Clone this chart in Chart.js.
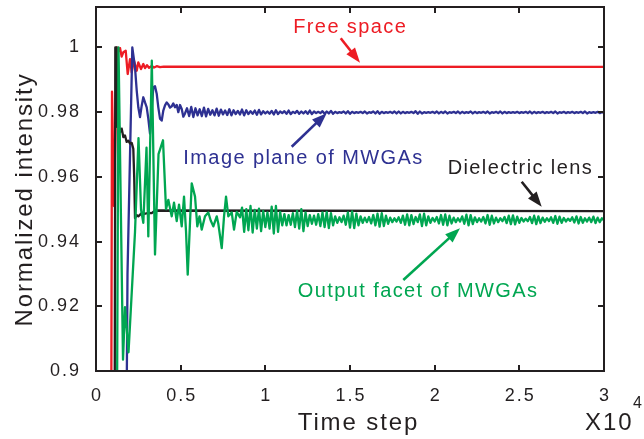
<!DOCTYPE html>
<html>
<head>
<meta charset="utf-8">
<script src="https://cdn.jsdelivr.net/npm/chart.js@4.4.1/dist/chart.umd.min.js"></script>
<style>
html,body{margin:0;padding:0;background:#fff;}
#wrap{width:644px;height:439px;}
</style>
</head>
<body>
<div id="wrap"><canvas id="c" width="644" height="439"></canvas></div>
<script>
// ---------------- DATA (time in units of 10^4 steps) ----------------
const xTicks = [0, 0.5, 1, 1.5, 2, 2.5, 3];
const xTickLabels = ['0', '0.5', '1', '1.5', '2', '2.5', '3'];
const yTicks = [0.9, 0.92, 0.94, 0.96, 0.98, 1];
const yTickLabels = ['0.9', '0.92', '0.94', '0.96', '0.98', '1'];

// Free space (red): [time, intensity]
const freeSpace = [
  [0.0886,0.85],[0.0945,0.9863],[0.1063,0.951],[0.124,1.0],[0.1329,0.9988],[0.1418,0.9998],
  [0.1515,0.9972],[0.1613,0.9985],[0.1754,0.999],[0.1872,0.9918],[0.2008,0.9964],[0.2109,0.9923],
  [0.2245,0.9959],[0.2404,0.9928],[0.2499,0.9954],[0.2658,0.9933],[0.2794,0.9949],[0.2894,0.9936],
  [0.3012,0.9945],[0.3131,0.9937],[0.329,0.9943],[0.3426,0.9938],[0.3585,0.9942],[0.378,0.9939],
  [0.40,0.9941],[3.0,0.9940]
];

// Image plane of MWGAs (blue): early transient [time, intensity]
const imagePlaneEarly = [
  [0.1760,0.85],[0.1860,0.93],[0.2144,1.0],[0.2304,0.9938],[0.2404,0.9867],[0.2499,0.9815],
  [0.2599,0.9785],[0.2699,0.982],[0.2794,0.9846],[0.2894,0.983],[0.2995,0.9815],[0.3089,0.978],
  [0.3190,0.9734],[0.3385,0.9877],[0.3485,0.988],[0.3585,0.9857],[0.3680,0.9815],[0.3780,0.978],
  [0.3881,0.9774],[0.3975,0.9805],[0.4076,0.9821],[0.4176,0.983],[0.4271,0.9824],[0.4371,0.9814],
  [0.4471,0.9818],[0.4566,0.9827],[0.4666,0.9815],[0.4767,0.9822],[0.4861,0.9800],[0.4962,0.9822],
  [0.5062,0.9810],[0.5157,0.9786],[0.5257,0.9796]
];
// Image plane tail, sampled every 0.0125 from 0.5375
const imagePlaneTailStart = 0.5375;
const imagePlaneTailStep = 0.0125;
const imagePlaneTail = [
  0.9812,0.9788,0.9816,0.9785,0.9812,0.9790,0.9809,0.9788,
  0.9814,0.9787,0.9810,0.9792,0.9806,0.9790,0.9811,0.9789,
  0.9808,0.9793,0.9805,0.9791,0.9809,0.9790,0.9806,0.9794,
  0.9804,0.9793,0.9808,0.9790,0.9806,0.9794,0.9803,0.9795,
  0.9805,0.9792,0.9807,0.9793,0.9803,0.9796,0.9802,0.9795,
  0.9804,0.9793,0.9806,0.9794,0.9802,0.9797,0.9803,0.9795,
  0.9805,0.9794,0.9801,0.9797,0.9804,0.9795,0.9802,0.9796,
  0.9803,0.9795,0.9805,0.9794,0.9802,0.9797,0.9801,0.9797,
  0.9803,0.9795,0.9802,0.9796,0.9804,0.9795,0.9801,0.9797,
  0.9800,0.9798,0.9802,0.9796,0.9803,0.9795,0.9801,0.9797,
  0.9800,0.9798,0.9801,0.9797,0.9802,0.9796,0.9800,0.9798,
  0.9802,0.9796,0.9803,0.9795,0.9801,0.9797,0.9800,0.9798,
  0.9801,0.9797,0.9802,0.9796,0.9802,0.9796,0.9801,0.9797,
  0.9800,0.9798,0.9801,0.9797,0.9803,0.9795,0.9802,0.9796,
  0.9800,0.9798,0.9800,0.9798,0.9801,0.9797,0.9802,0.9796,
  0.9801,0.9797,0.9802,0.9796,0.9800,0.9798,0.9801,0.9797,
  0.9802,0.9796,0.9801,0.9797,0.9800,0.9798,0.9802,0.9796,
  0.9801,0.9797,0.9800,0.9798,0.9801,0.9797,0.9802,0.9796,
  0.9800,0.9798,0.9801,0.9797,0.9802,0.9796,0.9801,0.9797,
  0.9800,0.9798,0.9800,0.9798,0.9801,0.9797,0.9800,0.9798,
  0.9801,0.9797,0.9802,0.9796,0.9801,0.9797,0.9800,0.9798,
  0.9801,0.9797,0.9800,0.9798,0.9801,0.9797,0.9802,0.9796,
  0.9800,0.9798,0.9801,0.9797,0.9800,0.9798,0.9801,0.9797,
  0.9800,0.9798,0.9801,0.9797,0.9802,0.9796,0.9800,0.9798,
  0.9800,0.9798,0.9801,0.9797,0.9800,0.9798
];

// Dielectric lens (black): [time, intensity]
const dielectricLens = [
  [0.1093,0.85],[0.1140,1.0],[0.1211,1.0],[0.1258,0.9754],[0.1329,0.9765],[0.1418,0.9738],
  [0.1518,0.9749],[0.1613,0.9723],[0.1713,0.9728],[0.1813,0.9708],[0.1908,0.9712],[0.2008,0.9703],
  [0.2109,0.9705],[0.2203,0.9687],[0.2256,0.9600],[0.2304,0.9472],[0.2404,0.9482],[0.2499,0.9478],
  [0.2699,0.9488],[0.2894,0.9486],[0.3089,0.9489],[0.3290,0.9488],[0.3385,0.9492],[0.3485,0.9496],
  [3.0,0.9494]
];

// Output facet of MWGAs (green): early transient [time, intensity]
const outputFacetEarly = [
  [0.1211,0.85],[0.1329,1.0],[0.1595,0.9035],[0.1713,0.9197],[0.1920,0.9058],[0.2304,0.9430],
  [0.2510,0.972],[0.2658,0.950],[0.2794,0.9458],[0.2983,0.969],[0.3089,0.9416],[0.3296,0.9959],
  [0.3485,0.936],[0.3692,0.967],[0.3957,0.9713],[0.4135,0.950],[0.4271,0.9529],[0.4471,0.9478],
  [0.4607,0.952],[0.4767,0.9463],[0.4903,0.9514],[0.5062,0.9447],[0.5198,0.9539],[0.5316,0.9432],
  [0.5416,0.9298],[0.5653,0.958],[0.5848,0.9539],[0.5983,0.9447],[0.6113,0.9478],[0.6243,0.9437],
  [0.6438,0.9478],[0.6633,0.9490],[0.6775,0.9465],[0.6929,0.9447],[0.7129,0.9478],[0.7224,0.9455],
  [0.7425,0.938],[0.7561,0.9478],[0.7679,0.9539],[0.7814,0.9478],[0.8015,0.9490],[0.8151,0.9437],
  [0.8311,0.9492],[0.8506,0.9475]
];
// Output facet tail, sampled every 0.0125 from 0.8625
const outputFacetTailStart = 0.8625;
const outputFacetTailStep = 0.0125;
const outputFacetTail = [
  0.9505,0.9430,0.9500,0.9435,0.9510,0.9428,0.9498,0.9440,
  0.9502,0.9432,0.9495,0.9445,0.9490,0.9440,0.9508,0.9425,
  0.9510,0.9430,0.9492,0.9450,0.9485,0.9450,0.9482,0.9452,
  0.9488,0.9445,0.9495,0.9440,0.9500,0.9432,0.9490,0.9448,
  0.9482,0.9455,0.9480,0.9452,0.9485,0.9448,0.9490,0.9445,
  0.9492,0.9442,0.9488,0.9450,0.9478,0.9458,0.9475,0.9460,
  0.9480,0.9452,0.9490,0.9443,0.9493,0.9442,0.9486,0.9450,
  0.9478,0.9458,0.9474,0.9460,0.9476,0.9456,0.9482,0.9450,
  0.9486,0.9446,0.9488,0.9448,0.9480,0.9455,0.9474,0.9460,
  0.9472,0.9462,0.9475,0.9458,0.9480,0.9452,0.9484,0.9450,
  0.9482,0.9454,0.9476,0.9460,0.9484,0.9448,0.9486,0.9450,
  0.9478,0.9458,0.9473,0.9462,0.9476,0.9456,0.9482,0.9452,
  0.9484,0.9450,0.9480,0.9456,0.9474,0.9460,0.9472,0.9462,
  0.9478,0.9455,0.9483,0.9450,0.9482,0.9454,0.9475,0.9460,
  0.9472,0.9462,0.9476,0.9456,0.9482,0.9452,0.9480,0.9456,
  0.9474,0.9460,0.9472,0.9463,0.9476,0.9457,0.9480,0.9454,
  0.9481,0.9453,0.9477,0.9458,0.9473,0.9462,0.9471,0.9463,
  0.9476,0.9457,0.9480,0.9454,0.9478,0.9457,0.9474,0.9461,
  0.9472,0.9463,0.9475,0.9458,0.9479,0.9455,0.9477,0.9458,
  0.9473,0.9462,0.9471,0.9464,0.9475,0.9459,0.9478,0.9456,
  0.9476,0.9458,0.9472,0.9462,0.9474,0.9460,0.9477,0.9457,
  0.9474,0.9460,0.9472,0.9465
];

// ---------------- STYLE ----------------
const FONT = "'Liberation Sans', Arial, Helvetica, sans-serif";
const AXIS = '#231f20';
const RED = '#ed1c24', BLUE = '#2e3192', BLACK = '#231f20', GREEN = '#00a651';

// annotations (data coordinates)
const labels = [
  {text: 'Free space', color: RED, x: 1.4971, y: 1.00604},
  {text: 'Image plane of MWGAs', color: BLUE, x: 1.2213, y: 0.96583},
  {text: 'Dielectric lens', color: BLACK, x: 2.5022, y: 0.96265},
  {text: 'Output facet of MWGAs', color: GREEN, x: 1.8981, y: 0.92451}
];
const arrows = [
  {color: RED, x1: 1.4451, y1: 1.00283, x2: 1.5591, y2: 0.99529},
  {color: BLUE, x1: 1.1557, y1: 0.96932, x2: 1.3624, y2: 0.9797},
  {color: BLACK, x1: 2.5140, y1: 0.95851, x2: 2.6321, y2: 0.95078},
  {color: GREEN, x1: 1.8148, y1: 0.92813, x2: 2.1496, y2: 0.94410}
];

function pairs(arr) { return arr.map(([x, y]) => ({x, y})); }
function tail(start, step, arr) { return arr.map((y, i) => ({x: start + i * step, y})); }

const greenData = pairs(outputFacetEarly).concat(tail(outputFacetTailStart, outputFacetTailStep, outputFacetTail));
const blueData = pairs(imagePlaneEarly).concat(tail(imagePlaneTailStart, imagePlaneTailStep, imagePlaneTail));
const blackData = pairs(dielectricLens);
const redData = pairs(freeSpace);

function drawArrow(ctx, x1, y1, x2, y2, color) {
  const dx = x2 - x1, dy = y2 - y1, len = Math.hypot(dx, dy);
  const ux = dx / len, uy = dy / len;
  const L = 15, W = 11;
  ctx.strokeStyle = color; ctx.fillStyle = color; ctx.lineWidth = 2.6; ctx.lineCap = 'butt';
  ctx.beginPath();
  ctx.moveTo(x1, y1);
  ctx.lineTo(x2 - ux * L * 0.8, y2 - uy * L * 0.8);
  ctx.stroke();
  ctx.beginPath();
  ctx.moveTo(x2, y2);
  ctx.lineTo(x2 - ux * L - uy * W / 2, y2 - uy * L + ux * W / 2);
  ctx.lineTo(x2 - ux * L + uy * W / 2, y2 - uy * L - ux * W / 2);
  ctx.closePath();
  ctx.fill();
}

const framePlugin = {
  id: 'frame',
  beforeDraw(chart) { chart.ctx.letterSpacing = '2px'; },
  afterDraw(chart) {
    const {ctx, chartArea: a} = chart;
    const xs = chart.scales.x, ys = chart.scales.y;
    ctx.save();
    ctx.strokeStyle = AXIS; ctx.lineWidth = 2;
    ctx.strokeRect(a.left, a.top, a.right - a.left, a.bottom - a.top);
    ctx.beginPath();
    const T = 6;
    xTicks.forEach(v => {
      const p = Math.round(xs.getPixelForValue(v));
      ctx.moveTo(p, a.bottom); ctx.lineTo(p, a.bottom - T);
      ctx.moveTo(p, a.top); ctx.lineTo(p, a.top + T);
    });
    yTicks.forEach(v => {
      const p = Math.round(ys.getPixelForValue(v));
      ctx.moveTo(a.left, p); ctx.lineTo(a.left + T, p);
      ctx.moveTo(a.right, p); ctx.lineTo(a.right - T, p);
    });
    ctx.stroke();

    // annotations
    ctx.font = '20px ' + FONT;
    ctx.letterSpacing = '1.4px';
    ctx.textAlign = 'center'; ctx.textBaseline = 'middle';
    labels.forEach(l => {
      ctx.fillStyle = l.color;
      ctx.fillText(l.text, xs.getPixelForValue(l.x) + 0.7, ys.getPixelForValue(l.y));
    });
    arrows.forEach(r => drawArrow(ctx, xs.getPixelForValue(r.x1), ys.getPixelForValue(r.y1),
                                  xs.getPixelForValue(r.x2), ys.getPixelForValue(r.y2), r.color));

    // axis titles
    ctx.fillStyle = AXIS;
    ctx.font = '24px ' + FONT;
    ctx.letterSpacing = '1.9px';
    ctx.textBaseline = 'alphabetic'; ctx.textAlign = 'center';
    const cx = (a.left + a.right) / 2, cy = (a.top + a.bottom) / 2;
    ctx.fillText('Time step', cx + 8.5, 430);
    ctx.save();
    ctx.translate(31.5, cy + 11.5);
    ctx.rotate(-Math.PI / 2);
    ctx.fillText('Normalized intensity', 1, 0);
    ctx.restore();
    // exponent label
    ctx.textAlign = 'left';
    ctx.letterSpacing = '2px';
    ctx.fillText('X10', a.right - 19, 430);
    ctx.font = '16px ' + FONT;
    ctx.letterSpacing = '0px';
    ctx.fillText('4', a.right + 29, 408);
    ctx.restore();
  }
};

const lineDs = (data, color) => ({
  data, borderColor: color, backgroundColor: color, borderWidth: 2.3,
  pointRadius: 0, fill: false, tension: 0, borderJoinStyle: 'round'
});

new Chart(document.getElementById('c'), {
  type: 'line',
  data: {
    datasets: [
      lineDs(greenData, GREEN),
      lineDs(blackData, BLACK),
      lineDs(blueData, BLUE),
      lineDs(redData, RED)
    ]
  },
  options: {
    responsive: false,
    animation: false,
    events: [],
    layout: {autoPadding: false, padding: {left: 0, right: 40, top: 7, bottom: 0}},
    plugins: {legend: {display: false}, tooltip: {enabled: false}},
    scales: {
      x: {
        type: 'linear', min: 0, max: 3,
        afterBuildTicks(s) { s.ticks = xTicks.map(v => ({value: v})); },
        afterFit(s) { s.height = 68; s.paddingLeft = 0; s.paddingRight = 0; },
        grid: {display: false}, border: {display: false},
        ticks: {
          font: {family: FONT, size: 18}, color: AXIS, padding: 6, labelOffset: 1,
          maxRotation: 0, autoSkip: false,
          callback: (v, i) => xTickLabels[i]
        }
      },
      y: {
        type: 'linear', min: 0.9, max: 1.0125,
        afterBuildTicks(s) { s.ticks = yTicks.map(v => ({value: v})); },
        afterFit(s) { s.width = 96; s.paddingTop = 0; s.paddingBottom = 0; },
        grid: {display: false}, border: {display: false},
        ticks: {
          font: {family: FONT, size: 18}, color: AXIS, padding: 7,
          autoSkip: false,
          callback: (v, i) => yTickLabels[i]
        }
      }
    }
  },
  plugins: [framePlugin]
});
</script>
</body>
</html>
